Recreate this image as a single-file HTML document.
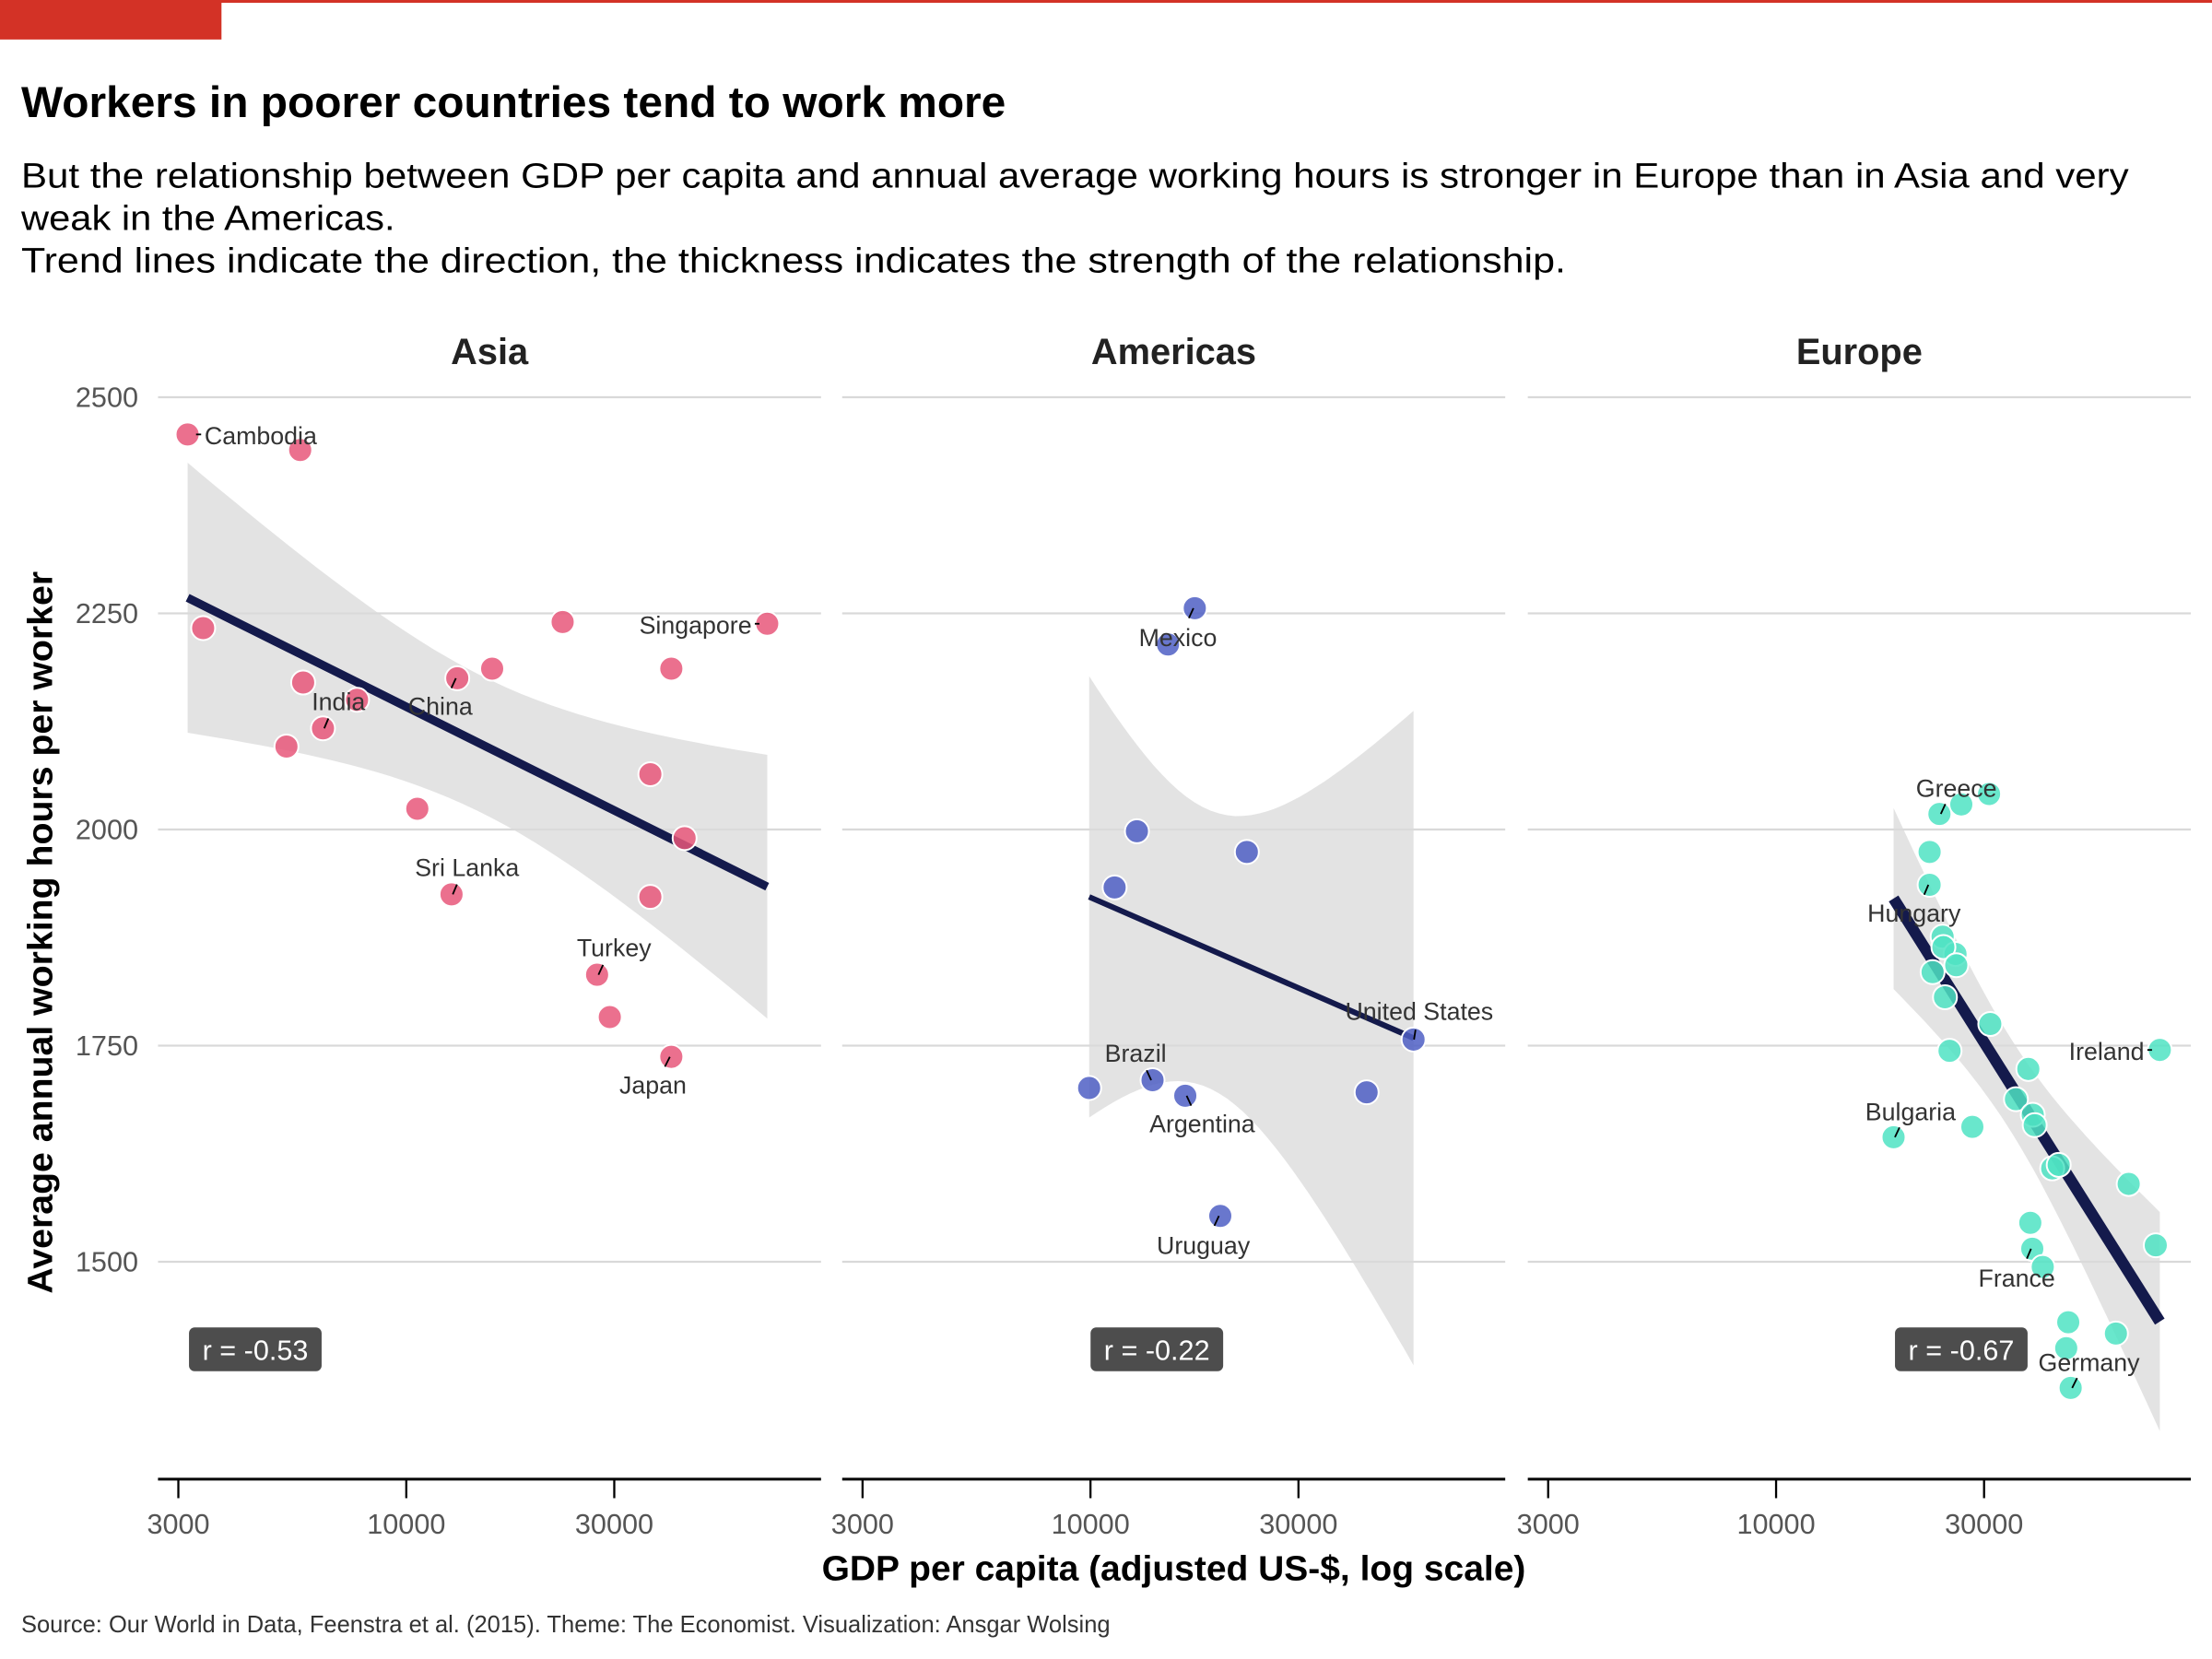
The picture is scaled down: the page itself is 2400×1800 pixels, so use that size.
<!DOCTYPE html>
<html><head><meta charset="utf-8"><style>
html,body{margin:0;padding:0;background:#fff;}
svg{display:block;}
text{font-family:"Liberation Sans",sans-serif;}
</style></head><body>
<svg id="chart" width="2400" height="1800" viewBox="0 0 1568 1176" xmlns="http://www.w3.org/2000/svg">
<rect x="0" y="0" width="1568" height="1176" fill="#fff"/>
<rect x="0" y="0" width="1568" height="2" fill="#d33226"/>
<rect x="0" y="0" width="157" height="28" fill="#d33226"/>
<text x="15" y="83" font-size="31" font-weight="bold" fill="#000" textLength="698" lengthAdjust="spacingAndGlyphs">Workers in poorer countries tend to work more</text>
<text x="15" y="133" font-size="25" fill="#000" textLength="1494" lengthAdjust="spacingAndGlyphs">But the relationship between GDP per capita and annual average working hours is stronger in Europe than in Asia and very</text>
<text x="15" y="163" font-size="25" fill="#000" textLength="265" lengthAdjust="spacingAndGlyphs">weak in the Americas.</text>
<text x="15" y="193" font-size="25" fill="#000" textLength="1095" lengthAdjust="spacingAndGlyphs">Trend lines indicate the direction, the thickness indicates the strength of the relationship.</text>
<text transform="translate(37,661) rotate(-90)" text-anchor="middle" font-size="25" font-weight="bold" fill="#000" textLength="512" lengthAdjust="spacingAndGlyphs">Average annual working hours per worker</text>
<text x="832" y="1120" text-anchor="middle" font-size="25" font-weight="bold" fill="#000" textLength="499" lengthAdjust="spacingAndGlyphs">GDP per capita (adjusted US-$, log scale)</text>
<text x="15" y="1157" font-size="17" fill="#333" textLength="772" lengthAdjust="spacingAndGlyphs">Source: Our World in Data, Feenstra et al. (2015). Theme: The Economist. Visualization: Ansgar Wolsing</text>
<g id="plot"></g>
</svg>
<script>
// ---- data ----
const regions = ['Asia', 'Americas', 'Europe'];
const yTicks = [1500, 1750, 2000, 2250, 2500];
const xTicks = [3000, 10000, 30000];
const xTickLabels = ['3000', '10000', '30000'];
const rLabels = ['r = -0.53', 'r = -0.22', 'r = -0.67'];
const asiaGdp = [3150, 5710, 3420, 5800, 7710, 6440, 5310, 10600, 13090, 15740, 22840, 40550, 67300, 36300, 43500, 12700, 36300, 27400, 29300, 40550];
const asiaHours = [2457, 2439, 2233, 2170, 2150, 2117, 2096, 2024, 2175, 2186, 2240, 2186, 2238, 2064, 1990, 1925, 1922, 1832, 1783, 1737];
const asiaNames = ['Cambodia', '', '', '', '', 'India', '', '', 'China', '', '', '', 'Singapore', '', '', 'Sri Lanka', '', 'Turkey', '', 'Japan'];
const amerGdp = [9930, 13880, 16500, 19850, 11360, 12780, 15060, 17350, 22840, 43000, 55100];
const amerHours = [1701, 1710, 1692, 1553, 1933, 1998, 2214, 2256, 1974, 1696, 1757];
const amerNames = ['', 'Brazil', 'Argentina', 'Uruguay', '', '', '', 'Mexico', '', '', 'United States'];
const euGdp = [23700, 26600, 30800, 22500, 22500, 24100, 25800, 24200, 25900, 22860, 24400, 31000, 25000, 37900, 18600, 28200, 35500, 38800, 39200, 43000, 44500, 64400, 75900, 74300, 38300, 38700, 40900, 46800, 46300, 60200, 47400];
const euHours = [2018, 2029, 2041, 1974, 1936, 1876, 1856, 1864, 1843, 1835, 1806, 1775, 1744, 1723, 1644, 1656, 1688, 1670, 1658, 1608, 1612, 1590, 1745, 1519, 1545, 1515, 1494, 1430, 1400, 1417, 1354];
const euNames = ['Greece', '', '', '', 'Hungary', '', '', '', '', '', '', '', '', '', 'Bulgaria', '', '', '', '', '', '', '', 'Ireland', '', '', 'France', '', '', '', '', 'Germany'];

// ---- layout (not data) ----
const panelOffsets = [0, 485, 971];
const colors = ['#e8577a', '#4f5fc4', '#4fe3c3'];
const lineWidths = [6, 4, 8];
const tValues = [2.10, 2.26, 2.05];
const labelStyle = {
  'Cambodia': [12, 7, 'start'], 'India': [11, -13, 'middle'], 'China': [-12, 26, 'middle'],
  'Singapore': [-11, 7, 'end'], 'Sri Lanka': [11, -13, 'middle'], 'Turkey': [12, -13, 'middle'],
  'Japan': [-13, 26, 'middle'], 'Mexico': [-12, 27, 'middle'], 'Brazil': [-12, -13, 'middle'],
  'Argentina': [12, 26, 'middle'], 'Uruguay': [-12, 27, 'middle'], 'United States': [4, -14, 'middle'],
  'Greece': [12, -12, 'middle'], 'Hungary': [-11, 26, 'middle'], 'Ireland': [-11, 7, 'end'],
  'Bulgaria': [12, -12, 'middle'], 'France': [-11, 27, 'middle'], 'Germany': [13, -12, 'middle']
};
const NS = 'http://www.w3.org/2000/svg';
const plot = document.getElementById('plot');
function xScale(p, v) { return panelOffsets[p] + 288 + 309 * (Math.log10(v) - 4); }
function yScale(v) { return 588 - (v - 2000) * 0.6128; }
function mk(tag, attrs, parent) {
  const e = document.createElementNS(NS, tag);
  for (const k in attrs) e.setAttribute(k, attrs[k]);
  (parent || plot).appendChild(e);
  return e;
}
const allGdp = [asiaGdp, amerGdp, euGdp];
const allHours = [asiaHours, amerHours, euHours];
const allNames = [asiaNames, amerNames, euNames];

yTicks.forEach(t => {
  const tx = mk('text', {x: 98, y: yScale(t) + 7, 'text-anchor': 'end', 'font-size': 20, fill: '#555'});
  
  
  tx.textContent = t;
});

for (let p = 0; p < 3; p++) {
  const off = panelOffsets[p];
  const g = mk('g', {});
  
  
  const ft = mk('text', {x: off + 347, y: 258, 'text-anchor': 'middle', 'font-size': 26, 'font-weight': 'bold', fill: '#222'}, g);
  
  
  ft.textContent = regions[p];
  yTicks.forEach(t => {
    const gl = mk('line', {x1: off + 112, x2: off + 582, y1: yScale(t), y2: yScale(t), stroke: '#d9d9d9', 'stroke-width': 1.5}, g);
    
    
  });
  const ax = mk('line', {x1: off + 112, x2: off + 582, y1: 1048.5, y2: 1048.5, stroke: '#000', 'stroke-width': 2}, g);
  
  
  xTicks.forEach((t, i) => {
    const X = xScale(p, t);
    const tk = mk('line', {x1: X, x2: X, y1: 1048, y2: 1062, stroke: '#000', 'stroke-width': 1.5}, g);
    
    
    const tl = mk('text', {x: X, y: 1087, 'text-anchor': 'middle', 'font-size': 20, fill: '#555'}, g);
    
    
    tl.textContent = xTickLabels[i];
  });

  const xs = allGdp[p].map(v => Math.log10(v)), ys = allHours[p];
  const n = xs.length;
  const mx = xs.reduce((a, b) => a + b, 0) / n, my = ys.reduce((a, b) => a + b, 0) / n;
  let sxx = 0, sxy = 0;
  for (let i = 0; i < n; i++) { sxx += (xs[i] - mx) ** 2; sxy += (xs[i] - mx) * (ys[i] - my); }
  const b = sxy / sxx, a = my - b * mx;
  let sse = 0;
  for (let i = 0; i < n; i++) sse += (ys[i] - a - b * xs[i]) ** 2;
  const s = Math.sqrt(sse / (n - 2));
  const xmin = Math.min(...xs), xmax = Math.max(...xs);
  const up = [], lo = [];
  for (let k = 0; k <= 40; k++) {
    const xv = xmin + (xmax - xmin) * k / 40;
    const yh = a + b * xv;
    const h = tValues[p] * s * Math.sqrt(1 / n + (xv - mx) ** 2 / sxx);
    const X = xScale(p, Math.pow(10, xv));
    up.push(X.toFixed(1) + ',' + yScale(yh + h).toFixed(1));
    lo.unshift(X.toFixed(1) + ',' + yScale(yh - h).toFixed(1));
  }
  const band = mk('polygon', {points: up.concat(lo).join(' '), fill: '#d9d9d9', 'fill-opacity': 0.75}, g);
  
  
  const tl = mk('line', {x1: xScale(p, Math.pow(10, xmin)), y1: yScale(a + b * xmin), x2: xScale(p, Math.pow(10, xmax)), y2: yScale(a + b * xmax), stroke: '#141a4c', 'stroke-width': lineWidths[p]}, g);
  
  

  for (let i = 0; i < n; i++) {
    const c = mk('circle', {cx: xScale(p, allGdp[p][i]), cy: yScale(ys[i]), r: 8.5, fill: colors[p], 'fill-opacity': 0.85, stroke: '#fff', 'stroke-width': 1.3}, g);
    
    
  }
  for (let i = 0; i < n; i++) {
    const nm = allNames[p][i];
    if (!nm) continue;
    const st = labelStyle[nm];
    const px = xScale(p, allGdp[p][i]), py = yScale(ys[i]);
    const ll = mk('line', {x1: px + st[0] * 0.08, y1: py, x2: px + st[0] * 0.35, y2: py + (st[1] > 0 ? 1 : -1) * 7, stroke: '#000', 'stroke-width': 1.2}, g);
    if (st[2] !== 'middle') { ll.setAttribute('x2', px + st[0] * 0.8); ll.setAttribute('y2', py); ll.setAttribute('x1', px + st[0] * 0.5); }
    
    
    const lt = mk('text', {x: px + st[0], y: py + st[1], 'text-anchor': st[2], 'font-size': 17.5, fill: '#333'}, g);
    
    
    lt.textContent = nm;
  }
  const bx = xScale(p, Math.pow(10, xmin)) + 1;
  const rb = mk('rect', {x: bx, y: 941, width: 94, height: 31, rx: 4, fill: '#4d4d4d'}, g);
  
  
  const rt = mk('text', {x: bx + 47, y: 964, 'text-anchor': 'middle', 'font-size': 20, fill: '#fff'}, g);
  
  
  rt.textContent = rLabels[p];
}
</script>
</body></html>
